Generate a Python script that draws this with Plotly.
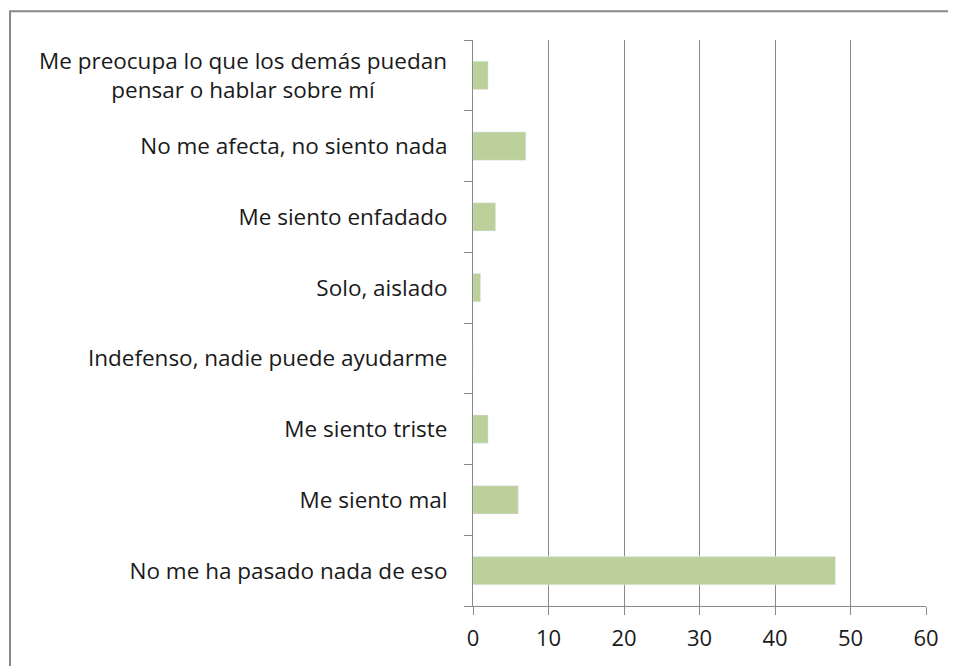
import plotly.graph_objects as go

categories = [
    "Me preocupa lo que los demás puedan<br>pensar o hablar sobre mí",
    "No me afecta, no siento nada",
    "Me siento enfadado",
    "Solo, aislado",
    "Indefenso, nadie puede ayudarme",
    "Me siento triste",
    "Me siento mal",
    "No me ha pasado nada de eso",
]
values = [2, 7, 3, 1, 0, 2, 6, 48]
x_ticks = [0, 10, 20, 30, 40, 50, 60]

FONT = "Open Sans, Liberation Sans, Arial, sans-serif"
TEXT = "#1a1a1a"
GRID = "#8a8a8a"

fig = go.Figure()
fig.add_trace(go.Bar(
    x=values,
    y=categories,
    orientation="h",
    marker=dict(color="#bbd09a"),
    width=0.4,
    hoverinfo="x+y",
))

# first label is two centred lines, drawn as an annotation instead of a tick label
tick_text = [""] + categories[1:]

fig.add_annotation(
    text=categories[0], x=0, y=categories[0], xref="paper", yref="y",
    xanchor="right", yanchor="middle", align="center", xshift=-24,
    showarrow=False, font=dict(family=FONT, size=22.5, color=TEXT),
)

fig.update_xaxes(
    range=[0, 60], tickvals=x_ticks, showgrid=True, gridcolor=GRID, gridwidth=1,
    showline=True, linecolor=GRID, linewidth=1,
    ticks="outside", ticklen=8, tickcolor=GRID, ticklabelstandoff=5,
    tickfont=dict(family=FONT, size=22, color=TEXT), zeroline=False,
    fixedrange=True,
)
fig.update_yaxes(
    categoryorder="array", categoryarray=categories, autorange="reversed",
    tickvals=categories, ticktext=tick_text,
    showline=True, linecolor=GRID, linewidth=1,
    ticks="outside", tickson="boundaries", ticklen=8, tickcolor=GRID,
    ticklabelstandoff=20,
    tickfont=dict(family=FONT, size=22.5, color=TEXT), showgrid=False,
)

# outer chart border (runs off the right and bottom edges like the reference)
fig.add_shape(
    type="rect", xref="paper", yref="paper",
    x0=-1.022, x1=1.2, y0=-0.2, y1=1.051,
    line=dict(color="#888888", width=2),
)

# the page body adds an 8px offset, so margins are trimmed to compensate
fig.update_layout(
    width=956, height=666,
    margin=dict(l=465, r=38, t=32, b=68),
    plot_bgcolor="white", paper_bgcolor="white",
    showlegend=False, bargap=0.6,
)

fig.write_html("out.html")
